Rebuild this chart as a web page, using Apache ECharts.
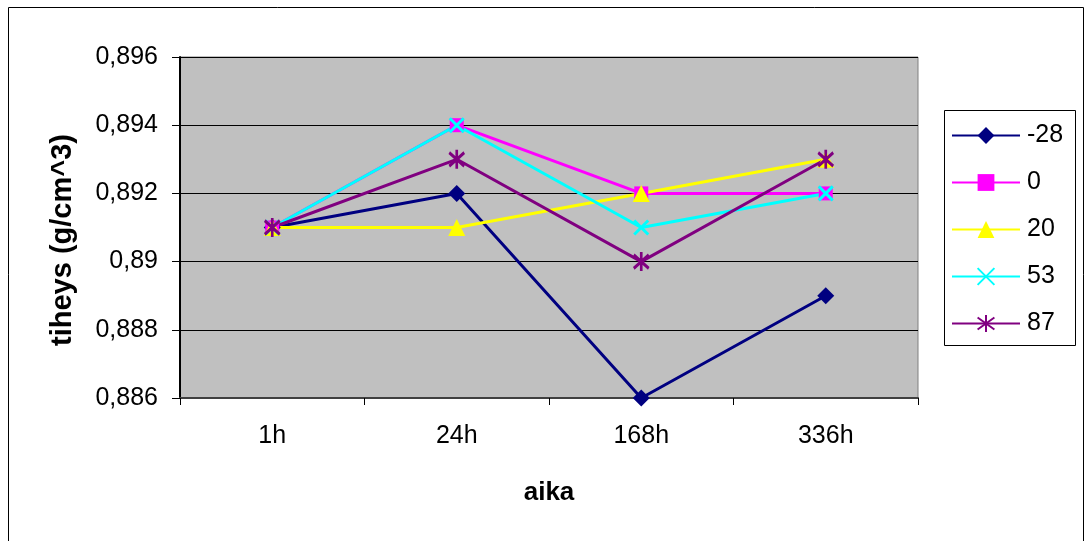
<!DOCTYPE html>
<html>
<head>
<meta charset="utf-8">
<script src="https://cdn.jsdelivr.net/npm/echarts@6/dist/echarts.min.js"></script>
<style>
  html, body { margin: 0; padding: 0; background: #fff; }
  #chart { width: 1086px; height: 541px; }
</style>
</head>
<body>
<div id="chart"></div>
<script>
// Time points and measured density per temperature series
const categories = ['1h', '24h', '168h', '336h'];
const seriesNames = ['-28', '0', '20', '53', '87'];
const s_m28 = [0.891, 0.892, 0.886, 0.889];
const s_0   = [0.891, 0.894, 0.892, 0.892];
const s_20  = [0.891, 0.891, 0.892, 0.893];
const s_53  = [0.891, 0.894, 0.891, 0.892];
const s_87  = [0.891, 0.893, 0.890, 0.893];
const yMin = 0.886, yMax = 0.896, yStep = 0.002;

const FONT = '"Liberation Sans", Arial, sans-serif';
const crossPath = 'path://M0,0L10,10M10,0L0,10';
const starPath = 'path://M0,2L10,12M10,2L0,12M5,0L5,14';

function lineSeries(name, data, color, symbol, size, hollow) {
  return {
    name: name,
    type: 'line',
    data: data,
    symbol: symbol,
    symbolSize: size,
    z: 3,
    lineStyle: { color: color, width: 3 },
    itemStyle: hollow
      ? { color: 'rgba(0,0,0,0)', borderColor: color, borderWidth: 3 }
      : { color: color, borderWidth: 0 },
    emphasis: { disabled: true }
  };
}

const chart = echarts.init(document.getElementById('chart'), null, { renderer: 'canvas' });
chart.setOption({
  animation: false,
  backgroundColor: '#ffffff',
  textStyle: { fontFamily: FONT },
  grid: {
    left: 180, right: 168, top: 57, bottom: 143,
    show: true, backgroundColor: '#c0c0c0',
    borderColor: '#808080', borderWidth: 1
  },
  legend: {
    orient: 'vertical',
    left: 946, top: 118,
    itemWidth: 68, itemHeight: 21, itemGap: 22,
    textStyle: { fontFamily: FONT, fontSize: 25, lineHeight: 21, color: '#000', padding: [0, 0, 0, 2] },
    data: seriesNames
  },
  xAxis: {
    type: 'category',
    data: categories,
    boundaryGap: true,
    name: 'aika',
    nameLocation: 'middle',
    nameGap: 82,
    nameTextStyle: { fontFamily: FONT, fontSize: 26, fontWeight: 'bold', color: '#000' },
    axisLine: { show: true, lineStyle: { color: '#404040', width: 2 } },
    axisTick: { show: true, alignWithLabel: false, length: 7, lineStyle: { color: '#000' } },
    axisLabel: { fontFamily: FONT, fontSize: 25, color: '#000', margin: 26 },
    splitLine: { show: false }
  },
  yAxis: {
    type: 'value',
    min: yMin, max: yMax, interval: yStep,
    axisLine: { show: true, lineStyle: { color: '#000', width: 2 } },
    axisTick: { show: true, length: 8, lineStyle: { color: '#000' } },
    axisLabel: {
      fontFamily: FONT, fontSize: 25, color: '#000', margin: 22,
      formatter: v => String(+v.toFixed(3)).replace('.', ',')
    },
    splitLine: { show: true, lineStyle: { color: '#000', width: 1 } }
  },
  graphic: [
    {
      type: 'rect', silent: true, z: -10,
      shape: { x: 8.5, y: 7.5, width: 1075, height: 560 },
      style: { fill: 'none', stroke: '#000', lineWidth: 1 }
    },
    {
      type: 'rect', silent: true, z: -5,
      shape: { x: 944.5, y: 110.5, width: 131, height: 235 },
      style: { fill: '#fff', stroke: '#000', lineWidth: 1 }
    },
    {
      // vertical axis title
      type: 'text', silent: true,
      x: 63, y: 240, rotation: Math.PI / 2,
      style: {
        text: 'tiheys (g/cm^3)',
        font: 'bold 29px ' + FONT,
        fill: '#000',
        align: 'center', verticalAlign: 'middle'
      }
    }
  ],
  series: [
    lineSeries('-28', s_m28, '#000080', 'diamond', 17, false),
    lineSeries('0', s_0, '#ff00ff', 'rect', 14, false),
    lineSeries('20', s_20, '#ffff00', 'triangle', 17, false),
    lineSeries('53', s_53, '#00ffff', crossPath, 14, true),
    lineSeries('87', s_87, '#800080', starPath, [15, 19], true)
  ]
});
</script>
</body>
</html>
